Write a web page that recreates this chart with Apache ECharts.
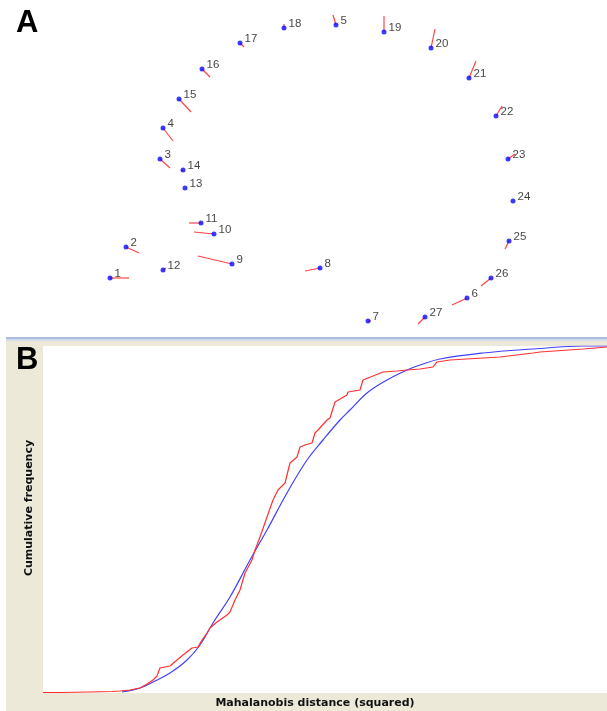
<!DOCTYPE html>
<html>
<head>
<meta charset="utf-8">
<script src="https://cdn.jsdelivr.net/npm/echarts/dist/echarts.min.js"></script>
<style>
html,body{margin:0;padding:0;background:#fff;}
#chart{width:607px;height:711px;}
</style>
</head>
<body>
<div id="chart"></div>
<script>
// ---- Panel A: landmarks (consensus position) and displacement end points ----
const landmarkIds = ['1','2','3','4','5','6','7','8','9','10','11','12','13','14','15','16','17','18','19','20','21','22','23','24','25','26','27'];
const landmarkX = [110,126,160,163,336,467,368,320,232,214,201,163,185,183,179,202,240,284,384,431,469,496,508,513,509,491,425];
const landmarkY = [278,247,159,128,25,298,321,268,264,234,223,270,188,170,99,69,43,28,32,48,78,116,159,201,241,278,317];
const shiftedX  = [129,139,170,173,333,452,371,305,198,194,189,166,185,181,191,210,244,284,384,435,476,502,515,513,505,481,418];
const shiftedY  = [278,253,168,141,15,305,321,271,256,232,223,268,188,171,112,77,47,24,16,29,61,106,154,201,249,286,324];

// ---- Panel B: cumulative frequency of squared Mahalanobis distances ----
const observedD2 = [0,1.9,1.9,4.5,4.5,6.9,7.7,8.7,9.7,10.4,11.0,11.4,11.7,12.7,13.4,14.0,14.9,15.5,15.9,16.4,16.7,17.4,18.4,18.7,19.2,19.7,20.2,20.9,21.2,21.7,22.4,23.0,23.5,24.2,24.7,25.4,25.7,26.2,26.9,27.2,27.5,28.4,28.7,29.2,30.4,30.5,31.7,32.0,32.5,34.0,35.4,36.4,37.7,39.0,39.4,40.7,45.7,49.0,49.7,54.0,56.4];
const observedCum = [0.0014,0.0014,0.0029,0.0029,0.0043,0.0043,0.0058,0.0086,0.0144,0.0259,0.0375,0.049,0.072,0.0778,0.0951,0.1095,0.1297,0.1326,0.1527,0.1729,0.1873,0.2046,0.2248,0.2334,0.268,0.2968,0.3458,0.3833,0.4121,0.4496,0.5072,0.5562,0.585,0.6052,0.6628,0.6801,0.7089,0.7147,0.7205,0.7493,0.7579,0.7867,0.7925,0.8386,0.8588,0.8674,0.8732,0.902,0.9078,0.9251,0.928,0.9308,0.9337,0.9395,0.9539,0.9597,0.9683,0.9798,0.9827,0.9914,0.9971];
const expectedD2 = [7.9,9.7,11.2,12.7,14.4,15.7,17.0,18.7,20.7,22.4,24.4,26.4,28.0,29.7,30.7,32.4,34.4,36.4,37.7,39.7,44.0,49.0,54.0,56.4];
const expectedCum = [0.0029,0.0144,0.0346,0.0576,0.0951,0.1383,0.2017,0.2767,0.3833,0.4697,0.5764,0.6715,0.7291,0.7867,0.8156,0.8646,0.902,0.9308,0.9452,0.9625,0.9798,0.9914,1.0,1.0];

const xLabel = 'Mahalanobis distance (squared)';
const yLabel = 'Cumulative frequency';

const vectorData = landmarkIds.map((id,i)=>[landmarkX[i],landmarkY[i],shiftedX[i],shiftedY[i]]);
const dotData = landmarkIds.map((id,i)=>({value:[landmarkX[i],landmarkY[i]],name:id}));
const obs = observedD2.map((x,i)=>[x,observedCum[i]]);
const exp = expectedD2.map((x,i)=>[x,expectedCum[i]]);

const labelFont = 'bold 11px "DejaVu Sans", Verdana, sans-serif';

const chart = echarts.init(document.getElementById('chart'));
chart.setOption({
  animation:false,
  backgroundColor:'#fff',
  graphic:[
    {type:'rect',shape:{x:6,y:337,width:601,height:2},style:{fill:'#aabcdc'},z:-10},
    {type:'rect',shape:{x:6,y:339,width:601,height:2},style:{fill:'#d3dcec'},z:-10},
    {type:'rect',shape:{x:6,y:341,width:601,height:370},style:{fill:'#ece9d8'},z:-10},
    {type:'text',x:16,y:8,style:{text:'A',font:'bold 31px "Liberation Sans", Arial, sans-serif',fill:'#000'},z:10},
    {type:'text',x:16,y:345,style:{text:'B',font:'bold 31px "Liberation Sans", Arial, sans-serif',fill:'#000'},z:10},
    {type:'text',x:315,y:703,style:{text:xLabel,font:labelFont,fill:'#111',align:'center',verticalAlign:'middle'},z:10},
    {type:'text',x:29,y:508,rotation:Math.PI/2,style:{text:yLabel,font:labelFont,fill:'#111',align:'center',verticalAlign:'middle'},z:10}
  ],
  grid:[
    {left:0,top:0,width:607,height:336,show:false},
    {left:43,top:346,right:0,bottom:18,show:true,backgroundColor:'#fff',borderWidth:0}
  ],
  xAxis:[
    {gridIndex:0,type:'value',min:0,max:607,show:false},
    {gridIndex:1,type:'value',min:0,max:56.4,axisLine:{show:false},axisTick:{show:false},axisLabel:{show:false},splitLine:{show:false}}
  ],
  yAxis:[
    {gridIndex:0,type:'value',min:0,max:336,inverse:true,show:false},
    {gridIndex:1,type:'value',min:0,max:1,axisLine:{show:false},axisTick:{show:false},axisLabel:{show:false},splitLine:{show:false}}
  ],
  series:[
    {type:'custom',xAxisIndex:0,yAxisIndex:0,data:vectorData,z:2,
     renderItem:function(params,api){
       const p0=api.coord([api.value(0),api.value(1)]);
       const p1=api.coord([api.value(2),api.value(3)]);
       return {type:'line',shape:{x1:p0[0],y1:p0[1],x2:p1[0],y2:p1[1]},style:{stroke:'#ff4545',lineWidth:1.2}};
     }},
    {type:'scatter',xAxisIndex:0,yAxisIndex:0,data:dotData,symbolSize:5,z:3,
     itemStyle:{color:'#0a0aff'},
     label:{show:true,position:'right',distance:2,offset:[0,-4],formatter:'{b}',color:'#111',fontSize:11.5,fontFamily:'"Liberation Sans", Arial, sans-serif'}},
    {type:'line',xAxisIndex:1,yAxisIndex:1,data:exp,smooth:0.4,symbol:'none',z:3,
     lineStyle:{color:'#4040ff',width:1.2}},
    {type:'line',xAxisIndex:1,yAxisIndex:1,data:obs,smooth:false,symbol:'none',z:4,
     lineStyle:{color:'#ff3030',width:1.2}}
  ]
});
</script>
</body>
</html>
